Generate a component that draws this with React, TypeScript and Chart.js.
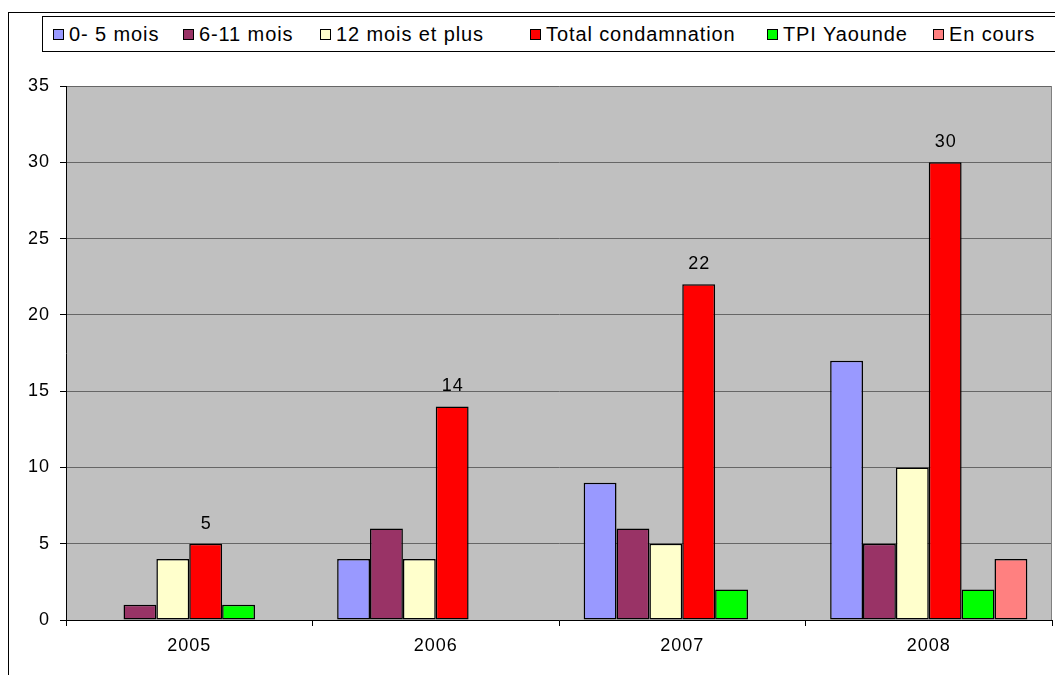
import React, { useEffect, useRef } from "react";
import { Chart, registerables } from "chart.js";

Chart.register(...registerables);

const categories = ["2005", "2006", "2007", "2008"];
const seriesNames = [
  "0- 5 mois",
  "6-11 mois",
  "12 mois et plus",
  "Total condamnation",
  "TPI Yaounde",
  "En cours",
];
const s0to5 = [null, 4, 9, 17];
const s6to11 = [1, 6, 6, 5];
const s12plus = [4, 4, 5, 10];
const sTotal = [5, 14, 22, 30];
const sTPI = [1, null, 2, 2];
const sEnCours = [null, null, null, 4];
const seriesColors = ["#9999FF", "#993366", "#FFFFCC", "#FF0000", "#00FF00", "#FF8080"];
const yMin = 0;
const yMax = 35;
const yStep = 5;
const labelledSeriesIndex = 3;

const legendX = [53, 183, 320, 530, 767, 933];

const FONT = "'Liberation Sans', Arial, sans-serif";
const CANVAS_SPACING = "1px";
const LEGEND_SPACING = "0.9px";

export default function App() {
  const canvasRef = useRef<HTMLCanvasElement | null>(null);

  useEffect(() => {
    const canvas = canvasRef.current;
    if (!canvas) return;
    const allSeries = [s0to5, s6to11, s12plus, sTotal, sTPI, sEnCours];

    const bgPlugin = {
      id: "bgPlugin",
      beforeDraw(chart: any) {
        const { ctx, chartArea } = chart;
        (ctx as any).letterSpacing = CANVAS_SPACING;
        ctx.save();
        ctx.fillStyle = "#C0C0C0";
        ctx.fillRect(chartArea.left, chartArea.top, chartArea.right - chartArea.left, chartArea.bottom - chartArea.top);
        ctx.restore();
      },
      beforeDatasetsDraw(chart: any) {
        const { ctx, chartArea } = chart;
        ctx.save();
        ctx.strokeStyle = "#808080";
        ctx.lineWidth = 1;
        ctx.beginPath();
        const r = Math.round(chartArea.right) - 0.5;
        ctx.moveTo(r, chartArea.top);
        ctx.lineTo(r, chartArea.bottom);
        ctx.stroke();
        ctx.restore();
      },
      afterDatasetsDraw(chart: any) {
        const { ctx } = chart;
        const meta = chart.getDatasetMeta(labelledSeriesIndex);
        ctx.save();
        (ctx as any).letterSpacing = CANVAS_SPACING;
        ctx.fillStyle = "#000";
        ctx.font = `18px ${FONT}`;
        ctx.textAlign = "center";
        ctx.textBaseline = "alphabetic";
        meta.data.forEach((el: any, i: number) => {
          const v = sTotal[i];
          if (v == null) return;
          ctx.fillText(String(v), el.x + 0.5, el.y - 15);
        });
        ctx.restore();
      },
    };

    const chart = new Chart(canvas, {
      type: "bar",
      data: {
        labels: categories,
        datasets: allSeries.map((d, i) => ({
          label: seriesNames[i],
          data: d as any,
          backgroundColor: seriesColors[i],
          borderColor: "#000000",
          borderWidth: 1.5,
          borderSkipped: false,
          categoryPercentage: 0.8,
          barPercentage: 1.0,
        })),
      },
      options: {
        responsive: false,
        animation: false,
        events: [],
        layout: { padding: { top: 86, right: 3, left: 0, bottom: 0 } },
        plugins: {
          legend: { display: false },
          tooltip: { enabled: false },
          title: { display: false },
        },
        scales: {
          x: {
            offset: true,
            grid: {
              offset: true,
              drawOnChartArea: false,
              drawTicks: true,
              tickLength: 6,
              tickColor: "#000",
            },
            border: { display: true, color: "#000", width: 1 },
            ticks: {
              color: "#000",
              font: { family: FONT, size: 18 },
              padding: 9,
              maxRotation: 0,
            },
            afterFit(scale: any) {
              scale.height = 55;
            },
          },
          y: {
            min: yMin,
            max: yMax,
            ticks: {
              stepSize: yStep,
              color: "#000",
              font: { family: FONT, size: 18 },
              padding: 10,
            },
            grid: {
              color: "#666666",
              lineWidth: 1,
              tickLength: 6,
              tickColor: "#000",
            },
            border: { display: true, color: "#000", width: 1 },
            afterFit(scale: any) {
              scale.width = 66;
            },
          },
        },
      },
      plugins: [bgPlugin],
    });

    return () => {
      chart.destroy();
    };
  }, []);

  return (
    <div
      style={{
        position: "absolute",
        left: 0,
        top: 0,
        width: 1055,
        height: 675,
        overflow: "hidden",
        background: "#fff",
        fontFamily: FONT,
      }}
    >
      <div
        style={{
          position: "absolute",
          left: 8,
          top: 12,
          width: 1200,
          height: 800,
          borderLeft: "1px solid #000",
          borderTop: "1px solid #000",
        }}
      />
      <canvas
        ref={canvasRef}
        width={1055}
        height={675}
        style={{ position: "absolute", left: 0, top: 0, display: "block" }}
      />
      <div
        style={{
          position: "absolute",
          left: 42,
          top: 16,
          width: 1200,
          height: 34,
          border: "1px solid #000",
          background: "#fff",
        }}
      />
      {seriesNames.map((name, i) => (
        <div
          key={name}
          style={{
            position: "absolute",
            left: legendX[i],
            top: 17,
            height: 34,
            display: "flex",
            alignItems: "center",
            whiteSpace: "nowrap",
          }}
        >
          <span
            style={{
              display: "inline-block",
              width: 9,
              height: 9,
              border: "1px solid #000",
              background: seriesColors[i],
              marginRight: 5,
            }}
          />
          <span style={{ fontSize: 20, letterSpacing: LEGEND_SPACING, color: "#000", lineHeight: "34px" }}>
            {name}
          </span>
        </div>
      ))}
    </div>
  );
}
